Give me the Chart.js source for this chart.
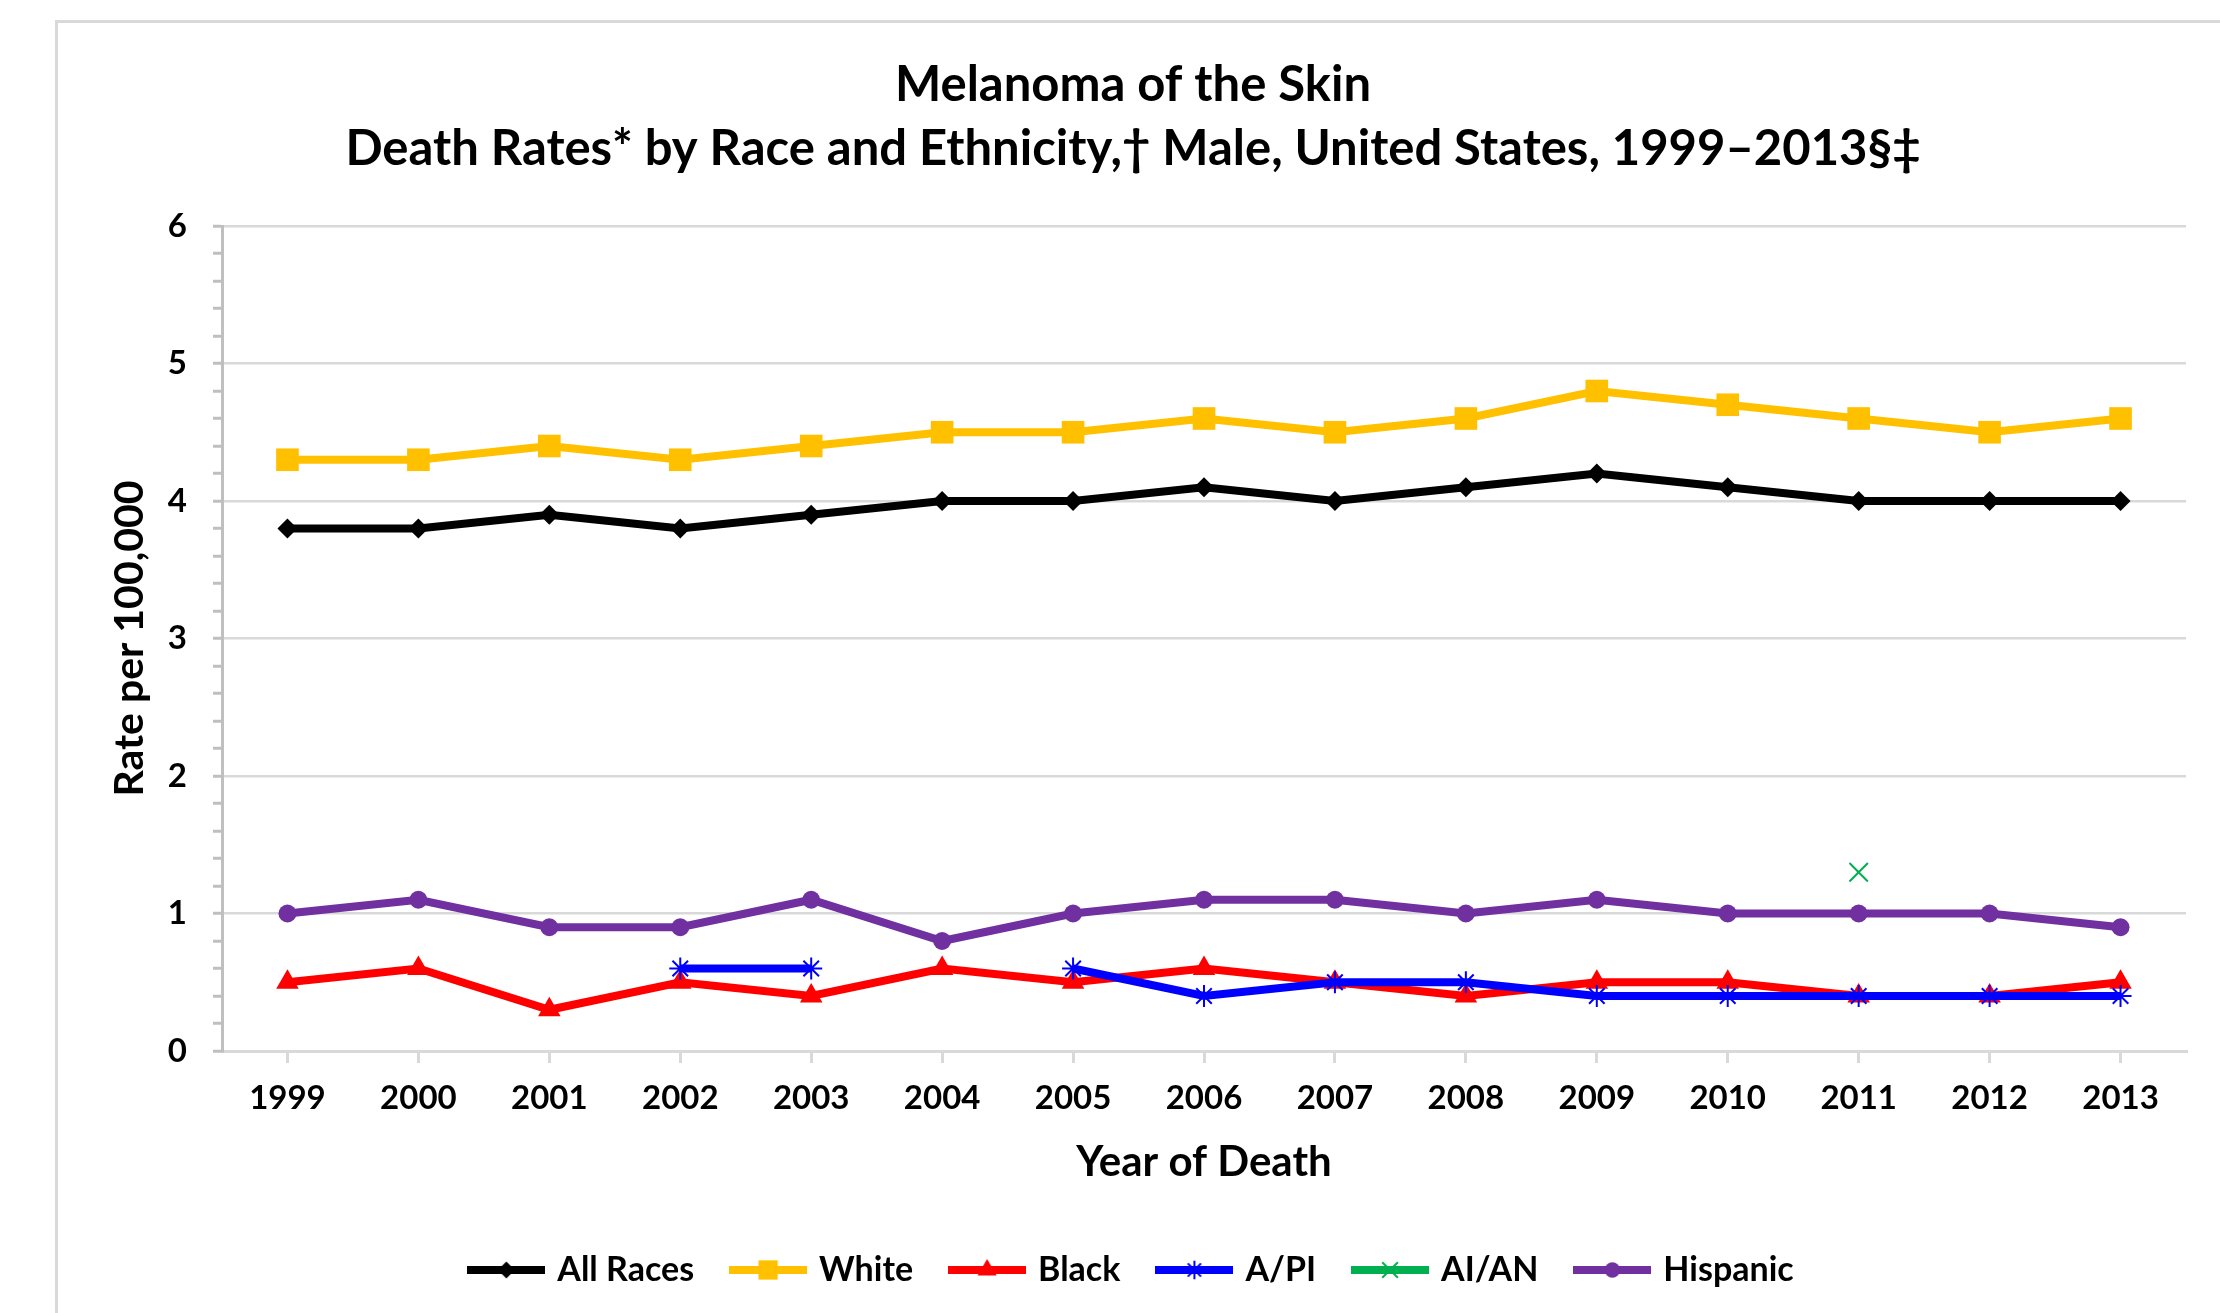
<!DOCTYPE html>
<html>
<head>
<meta charset="utf-8">
<script src="https://cdn.jsdelivr.net/npm/chart.js@4.4.1/dist/chart.umd.min.js"></script>
<style>
    html, body { margin: 0; padding: 0; background: #fff; overflow: hidden; }
    #contenedor { position: relative; width: 2220px; height: 1313px; }
    #marco { position: absolute; left: 55px; top: 20px; width: 2300px; height: 1400px; border: 3px solid #d9d9d9; }
    #grafica { position: absolute; left: 0; top: 0; }
</style>
</head>
<body>
<div id="contenedor">
    <div id="marco"></div>
    <canvas id="grafica" width="2220" height="1313"></canvas>
</div>
<script>
// Datos de la gráfica (tasas por 100,000)
const anios = ['1999', '2000', '2001', '2002', '2003', '2004', '2005', '2006', '2007', '2008', '2009', '2010', '2011', '2012', '2013'];
const todasRazas = [3.8, 3.8, 3.9, 3.8, 3.9, 4.0, 4.0, 4.1, 4.0, 4.1, 4.2, 4.1, 4.0, 4.0, 4.0];
const blancos = [4.3, 4.3, 4.4, 4.3, 4.4, 4.5, 4.5, 4.6, 4.5, 4.6, 4.8, 4.7, 4.6, 4.5, 4.6];
const negros = [0.5, 0.6, 0.3, 0.5, 0.4, 0.6, 0.5, 0.6, 0.5, 0.4, 0.5, 0.5, 0.4, 0.4, 0.5];
const asiaticos = [null, null, null, 0.6, 0.6, null, 0.6, 0.4, 0.5, 0.5, 0.4, 0.4, 0.4, 0.4, 0.4];
const indigenas = [null, null, null, null, null, null, null, null, null, null, null, null, 1.3, null, null];
const hispanos = [1.0, 1.1, 0.9, 0.9, 1.1, 0.8, 1.0, 1.1, 1.1, 1.0, 1.1, 1.0, 1.0, 1.0, 0.9];

// Escala del eje Y
const ejeYMin = 0;
const ejeYMax = 6;
const ejeYPaso = 0.2;

const titulo = ['Melanoma of the Skin', 'Death Rates* by Race and Ethnicity,\u2020 Male, United States, 1999\u20132013\u00a7\u2021'];
const fuente = 'Lato, "Open Sans", sans-serif';

// Estilo de cada serie
const series = [
    { nombre: 'All Races', datos: todasRazas, color: '#000000', marcador: 'rectRot', radio: 10, grosor: 0 },
    { nombre: 'White', datos: blancos, color: '#FFC000', marcador: 'rect', radio: 16, grosor: 0 },
    { nombre: 'Black', datos: negros, color: '#FF0000', marcador: 'triangle', radio: 13, grosor: 0 },
    { nombre: 'A/PI', datos: asiaticos, color: '#0000FF', marcador: 'star', radio: 11, grosor: 2 },
    { nombre: 'AI/AN', datos: indigenas, color: '#00B050', marcador: 'crossRot', radio: 13, grosor: 2 },
    { nombre: 'Hispanic', datos: hispanos, color: '#7030A0', marcador: 'circle', radio: 9, grosor: 0 }
];

// Icono de la leyenda: línea con su marcador
function crearIcono(serie) {
    const lienzo = document.createElement('canvas');
    lienzo.width = 78;
    lienzo.height = 32;
    const ctx = lienzo.getContext('2d');
    ctx.strokeStyle = serie.color;
    ctx.lineWidth = 8;
    ctx.beginPath();
    ctx.moveTo(0, 16);
    ctx.lineTo(78, 16);
    ctx.stroke();
    ctx.fillStyle = serie.color;
    ctx.lineWidth = serie.grosor;
    Chart.helpers.drawPoint(ctx, {
        pointStyle: serie.marcador,
        radius: serie.radio * 0.85,
        rotation: 0,
        borderWidth: serie.grosor
    }, 39, 16);
    return lienzo;
}

const esEntero = (v) => Math.abs(v - Math.round(v)) < 1e-6;

const datasets = series.map((s, i) => ({
    label: s.nombre,
    data: s.datos,
    borderColor: s.color,
    backgroundColor: s.color,
    borderWidth: 8,
    pointStyle: s.marcador,
    pointRadius: s.radio,
    pointBorderWidth: s.grosor,
    pointBorderColor: s.color,
    pointBackgroundColor: s.color,
    tension: 0,
    spanGaps: false,
    order: series.length - i // las últimas series quedan encima
}));

new Chart(document.getElementById('grafica').getContext('2d'), {
    type: 'line',
    data: { labels: anios, datasets: datasets },
    options: {
        responsive: false,
        animation: false,
        devicePixelRatio: 1,
        layout: { padding: { left: 80, right: 34, top: 0, bottom: 16 } },
        plugins: {
            tooltip: { enabled: false },
            title: {
                display: true,
                text: titulo,
                color: '#000',
                font: { family: fuente, size: 49, weight: 'bold', lineHeight: 64 / 49 },
                padding: { top: 53, bottom: 45 }
            },
            legend: {
                position: 'bottom',
                labels: {
                    usePointStyle: true,
                    pointStyleWidth: 68,
                    padding: 40,
                    color: '#000',
                    font: { family: fuente, size: 34, weight: 'bold' },
                    generateLabels: (chart) => {
                        const items = Chart.defaults.plugins.legend.labels.generateLabels(chart);
                        items.sort((a, b) => a.datasetIndex - b.datasetIndex);
                        items.forEach((item) => {
                            item.pointStyle = crearIcono(series[item.datasetIndex]);
                        });
                        return items;
                    }
                }
            }
        },
        scales: {
            x: {
                type: 'category',
                offset: true,
                afterFit: (escala) => { escala.height = 162; },
                grid: {
                    drawOnChartArea: false,
                    offset: false,
                    tickLength: 12,
                    color: '#d9d9d9',
                    lineWidth: 3
                },
                border: { color: '#d9d9d9', width: 3 },
                ticks: {
                    color: '#000',
                    padding: 16,
                    maxRotation: 0,
                    autoSkip: false,
                    font: { family: fuente, size: 33, weight: 'bold' }
                },
                title: {
                    display: true,
                    text: 'Year of Death',
                    color: '#000',
                    font: { family: fuente, size: 42, weight: 'bold' },
                    padding: { top: 0, bottom: 25 }
                }
            },
            y: {
                min: ejeYMin,
                max: ejeYMax,
                afterFit: (escala) => { escala.width = 142; },
                grid: {
                    color: (ctx) => esEntero(ctx.tick.value) ? '#d9d9d9' : 'rgba(0,0,0,0)',
                    lineWidth: 2.5,
                    tickColor: '#bfbfbf',
                    tickWidth: 3,
                    tickLength: 9
                },
                border: { color: '#bfbfbf', width: 3 },
                ticks: {
                    stepSize: ejeYPaso,
                    autoSkip: false,
                    padding: 26,
                    color: '#000',
                    font: { family: fuente, size: 33, weight: 'bold' },
                    callback: (v) => esEntero(v) ? String(Math.round(v)) : ''
                },
                title: {
                    display: true,
                    text: 'Rate per 100,000',
                    color: '#000',
                    font: { family: fuente, size: 41, weight: 'bold' },
                    padding: { top: 25, bottom: 0 }
                }
            }
        }
    }
});
</script>
</body>
</html>
